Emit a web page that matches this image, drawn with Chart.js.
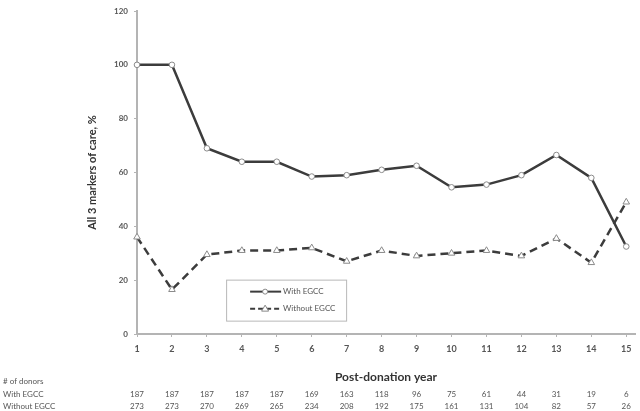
<!DOCTYPE html>
<html>
<head>
<meta charset="utf-8">
<script src="https://cdn.jsdelivr.net/npm/chart.js@4"></script>
<style>
  html, body { margin: 0; padding: 0; background: #fff; }
  #wrap { width: 640px; height: 411px; }
</style>
</head>
<body>
<div id="wrap"><canvas id="chart" width="640" height="411"></canvas></div>
<script>
const years = [1, 2, 3, 4, 5, 6, 7, 8, 9, 10, 11, 12, 13, 14, 15];
const withEgcc = [100, 100, 69, 64, 64, 58.5, 59, 61, 62.5, 54.5, 55.5, 59, 66.5, 58, 32.5];
const withoutEgcc = [36, 16.5, 29.5, 31, 31, 32, 27, 31, 29, 30, 31, 29, 35.5, 26.5, 49];
const donorsWith = [187, 187, 187, 187, 187, 169, 163, 118, 96, 75, 61, 44, 31, 19, 6];
const donorsWithout = [273, 273, 270, 269, 265, 234, 208, 192, 175, 161, 131, 104, 82, 57, 26];
const seriesNames = ['With EGCC', 'Without EGCC'];
const yTicks = [0, 20, 40, 60, 80, 100, 120];

const fontFam = 'Lato, "Open Sans", sans-serif';
const axisGray = '#b4b4b4';
const lineCol = '#3c3c3c';

const toPoints = vals => years.map((x, i) => ({ x: x, y: vals[i] }));

// legend box + donor table, drawn on the canvas
const extras = {
    id: 'extras',
    afterDraw(chart) {
        const ctx = chart.ctx;
        const xs = chart.scales.x;
        const ys = chart.scales.y;

        // legend
        const lx = xs.getPixelForValue(3.55);
        const ly = ys.getPixelForValue(20.2);
        const lw = 120, lh = 41;
        ctx.save();
        ctx.strokeStyle = '#b8b8b8';
        ctx.lineWidth = 1;
        ctx.strokeRect(lx + 0.5, ly + 0.5, lw, lh);
        ctx.font = '8px ' + fontFam;
        ctx.fillStyle = '#555';
        ctx.textBaseline = 'middle';
        const rows = [ly + 12, ly + 29];
        rows.forEach((ry, i) => {
            ctx.strokeStyle = lineCol;
            ctx.lineWidth = 2;
            ctx.setLineDash(i === 0 ? [] : [5, 3]);
            ctx.beginPath();
            ctx.moveTo(lx + 24, ry);
            ctx.lineTo(lx + 55, ry);
            ctx.stroke();
            ctx.setLineDash([]);
            ctx.fillStyle = '#fff';
            ctx.strokeStyle = '#888';
            ctx.lineWidth = 1;
            ctx.beginPath();
            if (i === 0) {
                ctx.arc(lx + 39, ry, 2.5, 0, Math.PI * 2);
            } else {
                ctx.moveTo(lx + 39, ry - 3.5);
                ctx.lineTo(lx + 42.5, ry + 2.5);
                ctx.lineTo(lx + 35.5, ry + 2.5);
                ctx.closePath();
            }
            ctx.fill();
            ctx.stroke();
            ctx.fillStyle = '#555';
            ctx.textAlign = 'left';
            ctx.fillText(seriesNames[i], lx + 57, ry);
        });

        // donor counts table
        ctx.font = '8px ' + fontFam;
        ctx.fillStyle = '#555';
        ctx.textAlign = 'left';
        ctx.fillText('# of donors', 3, 381);
        ctx.fillText(seriesNames[0], 3, 394);
        ctx.fillText(seriesNames[1], 3, 406);
        ctx.textAlign = 'center';
        years.forEach((yr, i) => {
            const px = xs.getPixelForValue(yr);
            ctx.fillText(String(donorsWith[i]), px, 394);
            ctx.fillText(String(donorsWithout[i]), px, 406);
        });
        ctx.restore();
    }
};

new Chart(document.getElementById('chart'), {
    type: 'line',
    data: {
        datasets: [
            {
                label: seriesNames[0],
                data: toPoints(withEgcc),
                borderColor: lineCol,
                borderWidth: 2.5,
                pointStyle: 'circle',
                pointRadius: 2.8,
                pointBackgroundColor: '#fff',
                pointBorderColor: '#8a8a8a',
                pointBorderWidth: 1,
                tension: 0,
                clip: false
            },
            {
                label: seriesNames[1],
                data: toPoints(withoutEgcc),
                borderColor: lineCol,
                borderWidth: 2.5,
                borderDash: [8, 5],
                pointStyle: 'triangle',
                pointRadius: 3.8,
                pointBackgroundColor: '#fff',
                pointBorderColor: '#8a8a8a',
                pointBorderWidth: 1,
                tension: 0,
                clip: false
            }
        ]
    },
    options: {
        responsive: false,
        animation: false,
        layout: { padding: { left: 86, right: 4, top: 11, bottom: 25 } },
        plugins: {
            legend: { display: false },
            tooltip: { enabled: false }
        },
        scales: {
            x: {
                type: 'linear',
                min: 1,
                max: 15.25,
                afterBuildTicks(scale) {
                    scale.ticks = years.map(v => ({ value: v }));
                },
                afterFit(scale) { scale.height = 52; },
                ticks: {
                    color: '#555',
                    font: { family: fontFam, size: 9, weight: 'bold' },
                    padding: 7,
                    maxRotation: 0
                },
                grid: {
                    drawOnChartArea: false,
                    color: axisGray,
                    tickLength: 3
                },
                border: { color: axisGray, width: 2 },
                title: {
                    display: true,
                    text: 'Post-donation year',
                    color: '#333',
                    font: { family: fontFam, size: 12, weight: 'bold' },
                    padding: { top: 2, bottom: 2 }
                }
            },
            y: {
                min: 0,
                max: 120,
                afterBuildTicks(scale) {
                    scale.ticks = yTicks.map(v => ({ value: v }));
                },
                afterFit(scale) { scale.width = 51; },
                ticks: {
                    color: '#555',
                    font: { family: fontFam, size: 8, weight: 'bold' },
                    padding: 6
                },
                grid: {
                    drawOnChartArea: false,
                    color: axisGray,
                    tickLength: 3
                },
                border: { color: axisGray, width: 2 },
                title: {
                    display: true,
                    text: 'All 3 markers of care, %',
                    color: '#333',
                    font: { family: fontFam, size: 11, weight: 'bold' },
                    padding: { top: 0, bottom: 4 }
                }
            }
        }
    },
    plugins: [extras]
});
</script>
</body>
</html>
